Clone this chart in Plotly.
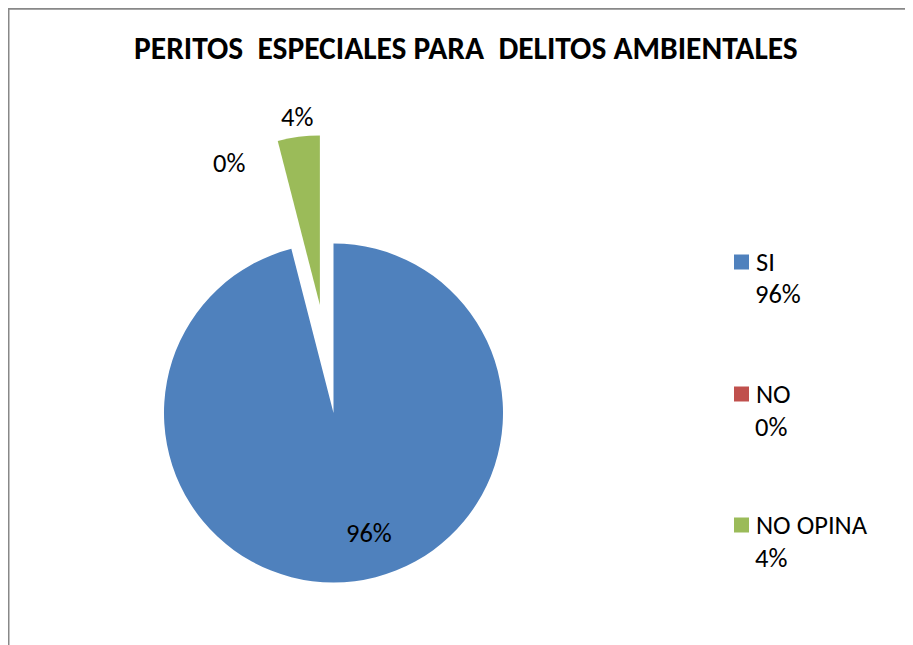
import plotly.graph_objects as go

title = "PERITOS&nbsp; ESPECIALES PARA&nbsp; DELITOS AMBIENTALES"
categories = ["SI", "NO", "NO OPINA"]
values = [96, 0, 4]
pct_labels = ["96%", "0%", "4%"]
colors = ["#4F81BD", "#C0504D", "#9BBB59"]

W, H = 913, 645
OFF = 8  # page body margin offset
FONT = "Carlito, Calibri, Lato, sans-serif"

def fx(px):
    return (px - OFF) / W

def fy(py):
    return 1 - (py - OFF) / H

def px_dom(cx, cy, r):
    return dict(x=[fx(cx - r), fx(cx + r)], y=[fy(cy + r), fy(cy - r)])

R = 169.5
CX, CY = 333.5, 413.0
# exploded slice offset (pull of the NO OPINA slice)
PX, PY = CX - 13.6, CY - 107.9

transparent = "rgba(0,0,0,0)"
colors_main = [c if cat != "NO OPINA" else transparent for c, cat in zip(colors, categories)]
colors_pull = [c if cat == "NO OPINA" else transparent for c, cat in zip(colors, categories)]

fig = go.Figure()
fig.add_trace(go.Pie(labels=categories, values=values, sort=False, direction="clockwise",
                     rotation=0, marker=dict(colors=colors_main, line=dict(width=0)),
                     textinfo="none", hoverinfo="skip", showlegend=False,
                     domain=px_dom(CX, CY, R)))
fig.add_trace(go.Pie(labels=categories, values=values, sort=False, direction="clockwise",
                     rotation=0, marker=dict(colors=colors_pull, line=dict(width=0)),
                     textinfo="none", hoverinfo="skip", showlegend=False,
                     domain=px_dom(PX, PY, R)))

ann = []
shapes = []
LS = 26.5
# data labels
label_pos = [(369, 532.5), (228.5, 163.5), (296.5, 117)]
for t, (x, y) in zip(pct_labels, label_pos):
    ann.append(dict(x=fx(x), y=fy(y), xref="paper", yref="paper", text=t, showarrow=False,
                    xanchor="center", yanchor="middle", font=dict(family=FONT, size=LS, color="#000")))
# legend
leg_y = [262, 394, 525]
for cat, t, c, y in zip(categories, pct_labels, colors, leg_y):
    shapes.append(dict(type="rect", xref="paper", yref="paper", x0=fx(734), x1=fx(749),
                       y0=fy(y + 7.5), y1=fy(y - 7.5), fillcolor=c, line=dict(width=0)))
    ann.append(dict(x=fx(754), y=fy(y), xref="paper", yref="paper", text=cat, showarrow=False,
                    xanchor="left", yanchor="middle", font=dict(family=FONT, size=LS, color="#000")))
    ann.append(dict(x=fx(753), y=fy(y + 32.5), xref="paper", yref="paper", text=t, showarrow=False,
                    xanchor="left", yanchor="middle", font=dict(family=FONT, size=LS, color="#000")))
# title
ann.append(dict(x=fx(466), y=fy(48), xref="paper", yref="paper", text="<b>" + title + "</b>",
                showarrow=False, xanchor="center", yanchor="middle",
                font=dict(family=FONT, size=31.5, color="#000")))
# border
shapes.append(dict(type="path", xref="paper", yref="paper",
                   path=f"M {fx(8.5)} 0 L {fx(8.5)} {fy(8.7)} L 1 {fy(8.7)}",
                   line=dict(color="#888888", width=2)))

fig.update_layout(width=W, height=H, margin=dict(l=0, r=0, t=0, b=0),
                  paper_bgcolor="white", plot_bgcolor="white",
                  annotations=ann, shapes=shapes, showlegend=False)
fig.write_html("out.html")
